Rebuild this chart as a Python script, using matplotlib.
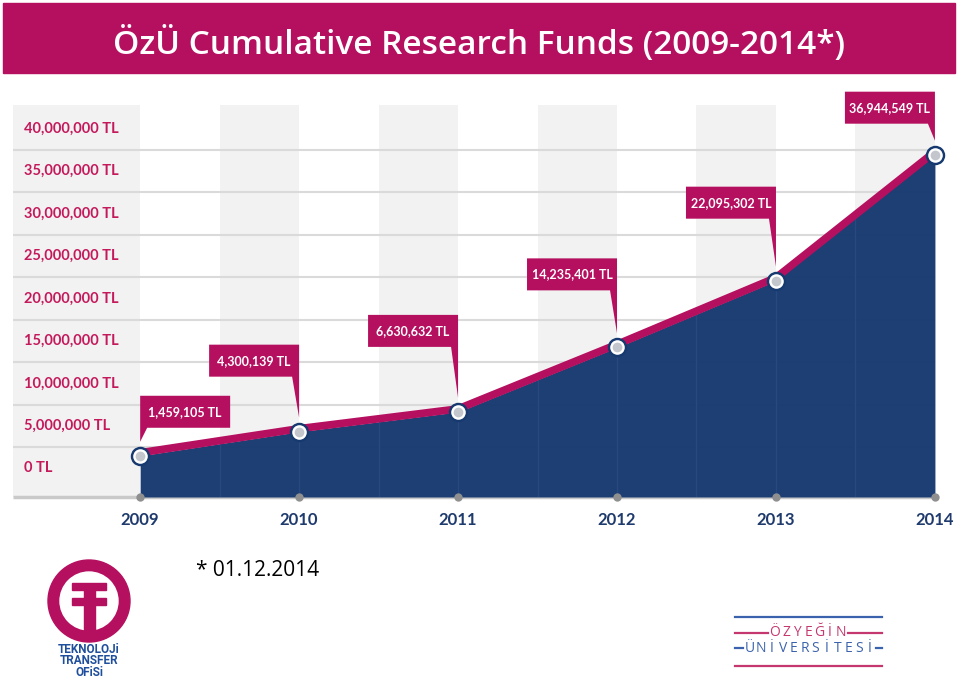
import matplotlib.pyplot as plt
import matplotlib.patches as mpatches
import matplotlib.transforms as mtransforms
import matplotlib.lines as mlines
import numpy as np

# data
years = [2009, 2010, 2011, 2012, 2013, 2014]
funds = [1459105, 4300139, 6630632, 14235401, 22095302, 36944549]
ytick_values = [0, 5000000, 10000000, 15000000, 20000000,
                25000000, 30000000, 35000000, 40000000]
ytick_labels = [f"{v:,} TL" for v in ytick_values]
callout_labels = [f"{v:,} TL" for v in funds]
title = "ÖzÜ Cumulative Research Funds (2009-2014*)"
footnote = "* 01.12.2014"

MAGENTA = '#b50f5f'
NAVY = '#16396f'
LABEL_RED = '#c41a5c'
YEAR_BLUE = '#1f3a6c'
BAND = '#f2f2f2'
GRID = '#dadada'
LOGO_BLUE = '#1f4f9c'

W, H = 959, 678
fig = plt.figure(figsize=(W / 100, H / 100), dpi=100)


def fx(px):
    return px / W


def fy(py):
    return 1 - py / H


# title band
fig.add_artist(mpatches.Rectangle((fx(3), fy(73)), 952 / W, 70 / H,
                                  color=MAGENTA, transform=fig.transFigure))
fig.text(fx(479), fy(44), title, ha='center', va='center', color='white',
         fontsize=24, family='Open Sans', fontweight='semibold')

# main chart area
ax = fig.add_axes([fx(13), fy(497), (954 - 13) / W, (497 - 105) / H])
x0, x1 = 2008.2, 2014.12
ymin, ymax = -3.4e6, 42.8e6
ax.set_xlim(x0, x1)
ax.set_ylim(ymin, ymax)
for s in ax.spines.values():
    s.set_visible(False)

# shaded columns
ax.axvspan(x0, years[0], color=BAND, lw=0, zorder=0)
for y in years[1:]:
    ax.axvspan(y - 0.5, y, color=BAND, lw=0, zorder=0)

# horizontal separators between the label bands
for t in ytick_values[:-1]:
    ax.hlines(t + 2.5e6, x0, years[-1], color=GRID, lw=1.5, zorder=1)
ax.hlines(ymin, x0, years[-1], color='#c9c9c9', lw=2.5, zorder=1, clip_on=False)

# area
poly = ax.fill_between(years, funds, ymin, color=NAVY, alpha=0.97, lw=0, zorder=2)
edges = [y - 0.5 for y in years[1:]] + years[1:-1]
vl = ax.vlines(edges, ymin, ymax, color='#27497f', lw=1, zorder=2.5)
vl.set_clip_path(poly.get_paths()[0], ax.transData)

# magenta ridge line, lifted a little above the area edge
lift = mtransforms.offset_copy(ax.transData, fig=fig, y=3, units='dots')
ax.plot(years, funds, color=MAGENTA, lw=5.5, solid_capstyle='butt',
        transform=lift, zorder=3)

# markers
ax.plot(years, funds, 'o', ms=14, color=NAVY, mec='none', zorder=5, clip_on=False)
ax.plot(years, funds, 'o', ms=10.5, color='white', mec='none', zorder=5, clip_on=False)
ax.plot(years, funds, 'o', ms=7, color='#c3c6cc', mec='none', zorder=5, clip_on=False)
ax.plot(years, [ymin] * len(years), 'o', ms=6, color='#8f8f8f', mec='none',
        zorder=6, clip_on=False)

# callouts (sizes in pixels)
sides = [1, -1, -1, -1, -1, -1]
box_bottom = [28, 55, 65, 57, 62, 31]
box_w, box_h, tip = 90, 32, 14
for x, v, lbl, sd, b in zip(years, funds, callout_labels, sides, box_bottom):
    trans = fig.dpi_scale_trans + mtransforms.ScaledTranslation(x, v, ax.transData)
    top = b + box_h
    verts = np.array([(0, top), (sd * box_w, top), (sd * box_w, b),
                      (sd * 7, b), (0, tip)]) / 100
    p = mpatches.Polygon(verts, closed=True, transform=trans, color=MAGENTA,
                         lw=0, zorder=7)
    p.set_clip_on(False)
    ax.add_artist(p)
    ax.text(sd * box_w / 200, (b + box_h / 2) / 100, lbl, transform=trans,
            ha='center', va='center', color='white', fontsize=9,
            fontweight='bold', family='Lato', zorder=8)

# y labels inside the left column
ty = mtransforms.blended_transform_factory(ax.transAxes, ax.transData)
for t, lbl in zip(ytick_values, ytick_labels):
    ax.text(0.0117, t, lbl, transform=ty, ha='left', va='center',
            color=LABEL_RED, fontsize=10.5, fontweight='bold', family='Lato')
ax.set_yticks([])

ax.set_xticks(years)
ax.set_xticklabels([str(y) for y in years], color=YEAR_BLUE, fontsize=12,
                   fontweight='bold', family='Lato')
ax.tick_params(axis='x', length=0, pad=11)

# footnote
fig.text(fx(196), fy(570), footnote, ha='left', va='center', fontsize=15,
         family='Open Sans', color='black')

# TTO logo
cx, cy = 89, 601
fig.add_artist(mpatches.Ellipse((fx(cx), fy(cy)), 82 / W, 82 / H,
                                color=MAGENTA, transform=fig.transFigure))
fig.add_artist(mpatches.Ellipse((fx(cx), fy(cy)), 58 / W, 58 / H,
                                color='white', transform=fig.transFigure))
for top_px in (583, 598):
    fig.add_artist(mpatches.Rectangle((fx(cx - 17), fy(top_px + 7)), 34 / W, 7 / H,
                                      color=MAGENTA, transform=fig.transFigure))
fig.add_artist(mpatches.Rectangle((fx(cx - 5.5), fy(638)), 11 / W, 53 / H,
                                  color=MAGENTA, transform=fig.transFigure))
fig.text(fx(cx), fy(661), "TEKNOLOJi\nTRANSFER\nOFiSi", ha='center', va='center',
         multialignment='center', linespacing=0.85, color=LOGO_BLUE,
         fontsize=8.5, fontweight='bold', family='Roboto')

# university logo
def hline(xa, xb, ypx, color):
    fig.add_artist(mlines.Line2D([fx(xa), fx(xb)], [fy(ypx), fy(ypx)], color=color,
                                 lw=1.6, transform=fig.transFigure))


hline(735, 882, 617, '#3b63ad')
hline(735, 768, 633, '#c4386f')
hline(848, 882, 633, '#c4386f')
hline(735, 743, 648, '#3b63ad')
hline(876, 882, 648, '#3b63ad')
hline(735, 882, 666, '#c4386f')
for word, xa, xb, ypx, col in [("ÖZYEĞİN", 775, 841, 633, '#c4386f'),
                               ("ÜNİVERSİTESİ", 750, 870, 648, '#3b63ad')]:
    for ch, xp in zip(word, np.linspace(xa, xb, len(word))):
        fig.text(fx(xp), fy(ypx), ch, ha='center', va='center', color=col,
                 fontsize=10, family='Open Sans')

fig.savefig('out.png', dpi=100)
